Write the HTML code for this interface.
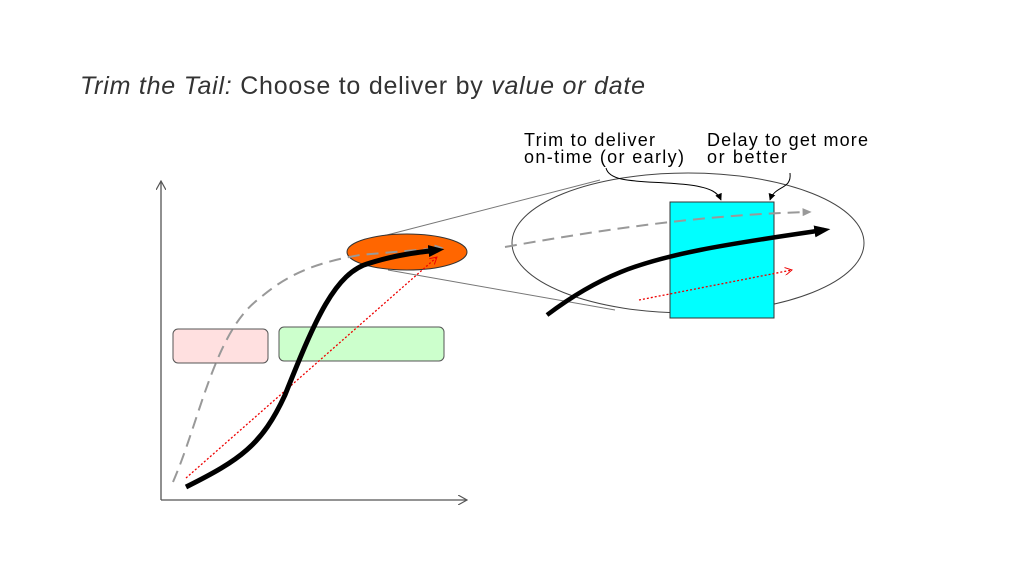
<!DOCTYPE html>
<html><head><style>body{margin:0;background:#fff}svg{display:block}</style></head><body>
<svg width="1024" height="576" viewBox="0 0 1024 576" xmlns="http://www.w3.org/2000/svg" font-family="Liberation Sans, sans-serif">
<defs>
<marker id="ak" viewBox="0 0 10 10" markerWidth="16" markerHeight="12" refX="6" refY="5" orient="auto" markerUnits="userSpaceOnUse" preserveAspectRatio="none"><path d="M0,0 L10,5 L0,10 z" fill="#000"/></marker>
<marker id="ag" viewBox="0 0 10 10" markerWidth="9" markerHeight="8" refX="6" refY="5" orient="auto" markerUnits="userSpaceOnUse" preserveAspectRatio="none"><path d="M0,0 L10,5 L0,10 z" fill="#999"/></marker>
<marker id="ar" viewBox="0 0 10 10" markerWidth="8" markerHeight="8" refX="9" refY="5" orient="auto" markerUnits="userSpaceOnUse"><path d="M0,0 L9,5 L0,10" fill="none" stroke="#e00" stroke-width="1.2"/></marker>
<marker id="ax" viewBox="0 0 10 10" markerWidth="10" markerHeight="10" refX="9" refY="5" orient="auto" markerUnits="userSpaceOnUse"><path d="M0,0 L9,5 L0,10" fill="none" stroke="#555" stroke-width="1.2"/></marker>
<marker id="as" viewBox="0 0 10 10" markerWidth="7" markerHeight="7" refX="9" refY="5" orient="auto" markerUnits="userSpaceOnUse"><path d="M0,0 L10,5 L0,10 z" fill="#000"/></marker>
</defs>
<text x="80" y="94" font-size="25" fill="#333" textLength="565" lengthAdjust="spacing"><tspan font-style="italic">Trim the Tail:</tspan> Choose to deliver by <tspan font-style="italic">value or date</tspan></text>
<line x1="161" y1="500" x2="161" y2="181" stroke="#555" stroke-width="1.3" marker-end="url(#ax)"/>
<line x1="161" y1="500" x2="467" y2="500" stroke="#555" stroke-width="1.3" marker-end="url(#ax)"/>
<rect x="173" y="329" width="95" height="34" rx="5" fill="#ffe0e0" stroke="#555"/>
<rect x="279" y="327" width="165" height="34" rx="5" fill="#ccffcc" stroke="#555"/>
<line x1="383" y1="236" x2="600" y2="180" stroke="#777"/>
<line x1="388" y1="270" x2="615" y2="310" stroke="#777"/>
<ellipse cx="407" cy="252" rx="60" ry="18" fill="#ff6600" stroke="#333"/>
<ellipse cx="688" cy="243" rx="176" ry="70" fill="none" stroke="#444"/>
<rect x="670" y="202" width="104" height="116" fill="#00ffff" stroke="#333"/>
<path d="M173,482 C200,420 215,330 260,298 C290,272 320,262 360,255 L440,248" fill="none" stroke="#999" stroke-width="2" stroke-dasharray="12,7" marker-end="url(#ag)"/>
<path d="M505,247 C600,230 700,215 808,212" fill="none" stroke="#999" stroke-width="2" stroke-dasharray="12,7" marker-end="url(#ag)"/>
<line x1="186" y1="478" x2="437" y2="257" stroke="#e00" stroke-width="1.3" stroke-dasharray="2,2" marker-end="url(#ar)"/>
<line x1="639" y1="300" x2="792" y2="270" stroke="#e00" stroke-width="1.3" stroke-dasharray="2,2" marker-end="url(#ar)"/>
<path d="M186,487 C240,460 262,445 285,395 C315,320 335,272 370,263 C395,255 420,252 438,250" fill="none" stroke="#000" stroke-width="5" marker-end="url(#ak)"/>
<path d="M547,315 C600,275 640,262 700,250 C740,242 790,235 824,230" fill="none" stroke="#000" stroke-width="4.5" marker-end="url(#ak)"/>
<path d="M606,168 C610,185 650,180 690,185 C712,188 718,193 721,200" fill="none" stroke="#000" stroke-width="1" marker-end="url(#as)"/>
<path d="M790,173 C792,190 775,185 770,200" fill="none" stroke="#000" stroke-width="1" marker-end="url(#as)"/>
<text x="524" y="146" font-size="18" fill="#000" textLength="131" lengthAdjust="spacing">Trim to deliver</text>
<text x="524" y="163" font-size="18" fill="#000" textLength="160" lengthAdjust="spacing">on-time (or early)</text>
<text x="707" y="146" font-size="18" fill="#000" textLength="161" lengthAdjust="spacing">Delay to get more</text>
<text x="707" y="163" font-size="18" fill="#000" textLength="80" lengthAdjust="spacing">or better</text>
</svg>
</body></html>
